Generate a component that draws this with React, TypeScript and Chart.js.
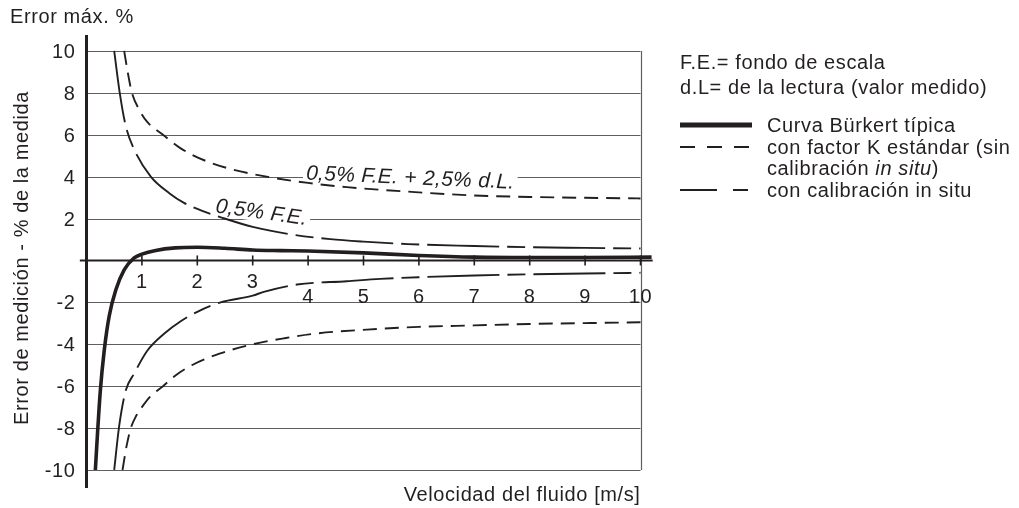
import React, { useEffect, useRef } from "react";
import { Chart, registerables } from "chart.js";

Chart.register(...registerables);

// ---- data ----
const xTickValues = [1, 2, 3, 4, 5, 6, 7, 8, 9, 10];
const yTickValues = [10, 8, 6, 4, 2, -2, -4, -6, -8, -10];

const burkertX = [0.16, 0.2, 0.25, 0.32, 0.41, 0.53, 0.68, 0.86, 1.0, 1.25, 1.6, 2.0, 2.5, 3.0, 3.5, 4.0, 5.0, 6.0, 7.0, 8.0, 9.0, 10.2];
const burkertY = [-10, -8.2, -6.2, -4.3, -2.65, -1.4, -0.45, 0.12, 0.3, 0.48, 0.6, 0.63, 0.58, 0.5, 0.47, 0.45, 0.36, 0.24, 0.16, 0.14, 0.14, 0.16];

const kUpperX = [0.68, 0.75, 0.82, 0.95, 1.1, 1.38, 1.7, 2.2, 2.7, 3.25, 4.0, 4.7, 6.0, 7.0, 8.0, 9.0, 10.0];
const kUpperY = [10, 8.9, 8.0, 7.2, 6.6, 6.0, 5.35, 4.7, 4.3, 4.0, 3.7, 3.5, 3.25, 3.1, 3.03, 2.99, 2.96];

const kLowerX = [0.65, 0.72, 0.8, 0.9, 1.0, 1.15, 1.38, 1.6, 1.9, 2.4, 3.0, 3.6, 4.1, 5.25, 6.0, 7.0, 8.0, 9.0, 10.0];
const kLowerY = [-10, -8.9, -8.0, -7.4, -7.0, -6.5, -6.0, -5.5, -5.0, -4.45, -4.0, -3.7, -3.5, -3.27, -3.17, -3.1, -3.03, -2.99, -2.95];

const calUpperX = [0.5, 0.6, 0.71, 0.86, 1.16, 1.5, 1.76, 2.1, 2.4, 3.0, 3.7, 4.4, 5.0, 5.8, 7.0, 8.0, 9.0, 10.0];
const calUpperY = [10, 8, 6.4, 5.3, 4.0, 3.2, 2.75, 2.35, 2.08, 1.6, 1.24, 1.02, 0.9, 0.78, 0.69, 0.63, 0.6, 0.57];

const calLowerX = [0.5, 0.59, 0.71, 0.86, 1.1, 1.4, 1.7, 2.0, 2.42, 3.0, 3.2, 3.8, 4.7, 5.3, 6.0, 7.0, 8.0, 9.0, 10.0];
const calLowerY = [-10, -7.9, -6.2, -5.4, -4.3, -3.5, -2.9, -2.45, -2.0, -1.68, -1.5, -1.15, -0.99, -0.88, -0.8, -0.72, -0.66, -0.62, -0.59];

const legendLabels = ["Curva Bürkert típica", "con factor K estándar (sin", "con calibración in situ"];

// ---- styles ----
const INK = "#231f20";
const GRID = "#5f5f5f";
const FONT = "'Liberation Sans', Arial, sans-serif";
const FS = 20;
const W = 1019;
const H = 508;

const pts = (xs: number[], ys: number[]) => xs.map((x, i) => ({ x, y: ys[i] }));

const overlay = {
  id: "overlay",
  beforeDatasetsDraw(chart: any) {
    const ctx = chart.ctx as any;
    const xs = chart.scales.x;
    const ys = chart.scales.y;
    const x0 = xs.getPixelForValue(0);
    const x10 = xs.getPixelForValue(10);
    ctx.save();
    ctx.strokeStyle = GRID;
    ctx.lineWidth = 1.2;
    for (const v of yTickValues) {
      const y = Math.round(ys.getPixelForValue(v)) + 0.5;
      ctx.beginPath();
      ctx.moveTo(x0, y);
      ctx.lineTo(x10, y);
      ctx.stroke();
    }
    ctx.beginPath();
    ctx.moveTo(Math.round(x10) + 0.5, ys.getPixelForValue(10));
    ctx.lineTo(Math.round(x10) + 0.5, ys.getPixelForValue(-10));
    ctx.stroke();

    const label = (text: string, xv: number, yv: number, angDeg: number, size: number) => {
      const px = xs.getPixelForValue(xv);
      const py = ys.getPixelForValue(yv);
      ctx.save();
      ctx.translate(px, py);
      ctx.rotate((angDeg * Math.PI) / 180);
      ctx.font = `italic ${size}px ${FONT}`;
      ctx.letterSpacing = "0.3px";
      const w = ctx.measureText(text).width;
      ctx.fillStyle = "#ffffff";
      ctx.fillRect(-3, -size * 0.78, w + 6, size * 0.92);
      ctx.fillStyle = INK;
      ctx.textBaseline = "alphabetic";
      ctx.textAlign = "left";
      ctx.fillText(text, 0, 0);
      ctx.restore();
    };
    label("0,5% F.E. + 2,5% d.L.", 3.96, 3.86, 2.5, 21);
    label("0,5% F.E.", 2.32, 2.3, 8, 21);
    ctx.restore();
  },
  afterDraw(chart: any) {
    const ctx = chart.ctx as any;
    const xs = chart.scales.x;
    const ys = chart.scales.y;
    const x0 = xs.getPixelForValue(0);
    const y0 = ys.getPixelForValue(0);
    ctx.save();
    ctx.strokeStyle = INK;
    ctx.lineWidth = 2;
    ctx.beginPath();
    ctx.moveTo(xs.getPixelForValue(-0.12), y0);
    ctx.lineTo(xs.getPixelForValue(10.22), y0);
    ctx.stroke();
    ctx.lineWidth = 1.6;
    for (const v of xTickValues) {
      const x = xs.getPixelForValue(v);
      ctx.beginPath();
      ctx.moveTo(x, y0 - 5);
      ctx.lineTo(x, y0 + 5);
      ctx.stroke();
    }
    ctx.lineWidth = 3;
    ctx.beginPath();
    ctx.moveTo(x0, ys.getPixelForValue(10.76));
    ctx.lineTo(x0, ys.getPixelForValue(-10.86));
    ctx.stroke();

    ctx.fillStyle = INK;
    ctx.font = `${FS}px ${FONT}`;
    ctx.letterSpacing = "0.6px";
    ctx.textBaseline = "alphabetic";
    ctx.textAlign = "right";
    for (const v of yTickValues) {
      ctx.fillText(String(v), x0 - 11, ys.getPixelForValue(v) + 7);
    }
    ctx.textAlign = "center";
    for (const v of xTickValues) {
      const yb = v <= 3 ? y0 + 28 : y0 + 43;
      ctx.fillText(String(v), xs.getPixelForValue(v), yb);
    }
    ctx.textAlign = "left";
    ctx.fillText("Error máx. %", 10, 23);
    ctx.textAlign = "right";
    ctx.fillText("Velocidad del fluido [m/s]", xs.getPixelForValue(10), 501);
    ctx.save();
    ctx.translate(28, 258);
    ctx.rotate(-Math.PI / 2);
    ctx.textAlign = "center";
    ctx.fillText("Error de medición - % de la medida", 0, 0);
    ctx.restore();

    const lx = 680;
    const tx = 767;
    ctx.textAlign = "left";
    ctx.fillText("F.E.= fondo de escala", lx, 69);
    ctx.fillText("d.L= de la lectura (valor medido)", lx, 94);

    ctx.lineWidth = 5;
    ctx.beginPath();
    ctx.moveTo(lx, 125);
    ctx.lineTo(752, 125);
    ctx.stroke();
    ctx.fillText(legendLabels[0], tx, 132);

    ctx.lineWidth = 2.2;
    ctx.setLineDash([15, 12]);
    ctx.beginPath();
    ctx.moveTo(lx, 147);
    ctx.lineTo(750, 147);
    ctx.stroke();
    ctx.fillText(legendLabels[1], tx, 154);
    ctx.fillText("calibración ", tx, 175);
    const w1 = ctx.measureText("calibración ").width;
    ctx.font = `italic ${FS}px ${FONT}`;
    ctx.fillText("in situ", tx + w1, 175);
    const w2 = ctx.measureText("in situ").width;
    ctx.font = `${FS}px ${FONT}`;
    ctx.fillText(")", tx + w1 + w2, 175);

    ctx.setLineDash([37, 16, 15, 100]);
    ctx.beginPath();
    ctx.moveTo(lx, 190);
    ctx.lineTo(750, 190);
    ctx.stroke();
    ctx.setLineDash([]);
    ctx.fillText(legendLabels[2], tx, 197);
    ctx.restore();
  },
};

export default function App() {
  const ref = useRef<HTMLCanvasElement | null>(null);
  useEffect(() => {
    if (!ref.current) return;
    const common = { pointRadius: 0, borderColor: INK, fill: false, showLine: true, cubicInterpolationMode: "monotone" as const };
    const chart = new Chart(ref.current, {
      type: "scatter",
      data: {
        datasets: [
          { ...common, label: "K upper", data: pts(kUpperX, kUpperY), borderWidth: 1.9, borderDash: [14, 8] },
          { ...common, label: "K lower", data: pts(kLowerX, kLowerY), borderWidth: 1.9, borderDash: [14, 8] },
          { ...common, label: "cal upper", data: pts(calUpperX, calUpperY), borderWidth: 1.9, borderDash: [72, 8, 18, 8] },
          { ...common, label: "cal lower", data: pts(calLowerX, calLowerY), borderWidth: 1.9, borderDash: [72, 8, 18, 8] },
          { ...common, label: legendLabels[0], data: pts(burkertX, burkertY), borderWidth: 3.6 },
        ],
      },
      options: {
        responsive: false,
        animation: false,
        layout: { padding: { left: 86.5, right: W - (86.5 + 10.25 * 55.4), top: 35, bottom: 20 } },
        plugins: { legend: { display: false }, tooltip: { enabled: false }, title: { display: false } },
        scales: {
          x: { type: "linear", min: 0, max: 10.25, display: false },
          y: { type: "linear", min: -10.86, max: 10.76, display: false },
        },
      },
      plugins: [overlay],
    });
    return () => chart.destroy();
  }, []);
  return (
    <div style={{ position: "absolute", left: 0, top: 0, width: W, height: H, background: "#fff" }}>
      <canvas ref={ref} width={W} height={H} style={{ display: "block" }} />
    </div>
  );
}
